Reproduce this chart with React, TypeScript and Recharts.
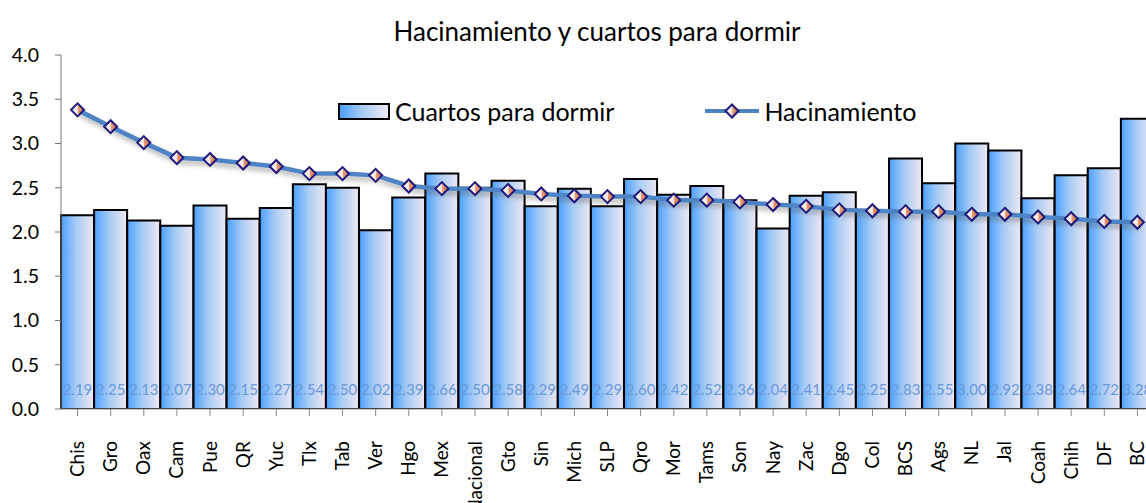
import { Bar, ComposedChart, LabelList, Line, XAxis, YAxis } from "recharts";

const categories = [
  "Chis", "Gro", "Oax", "Cam", "Pue", "QR", "Yuc", "Tlx", "Tab", "Ver", "Hgo",
  "Mex", "Nacional", "Gto", "Sin", "Mich", "SLP", "Qro", "Mor", "Tams", "Son",
  "Nay", "Zac", "Dgo", "Col", "BCS", "Ags", "NL", "Jal", "Coah", "Chih", "DF", "BC",
];

const cuartos = [
  2.19, 2.25, 2.13, 2.07, 2.3, 2.15, 2.27, 2.54, 2.5, 2.02, 2.39,
  2.66, 2.5, 2.58, 2.29, 2.49, 2.29, 2.6, 2.42, 2.52, 2.36,
  2.04, 2.41, 2.45, 2.25, 2.83, 2.55, 3.0, 2.92, 2.38, 2.64, 2.72, 3.28,
];

const hacinamiento = [
  3.38, 3.19, 3.01, 2.84, 2.82, 2.78, 2.74, 2.66, 2.66, 2.64, 2.52,
  2.49, 2.49, 2.47, 2.43, 2.41, 2.4, 2.4, 2.36, 2.36, 2.34,
  2.31, 2.29, 2.25, 2.24, 2.23, 2.23, 2.2, 2.2, 2.17, 2.15, 2.12, 2.11,
];

const yTicks = [0, 0.5, 1, 1.5, 2, 2.5, 3, 3.5, 4];

const data = categories.map((name, i) => ({
  name,
  cuartos: cuartos[i],
  hacinamiento: hacinamiento[i],
}));

const FONT = "Lato, 'Open Sans', sans-serif";
const LINE_COLOR = "#4f84c4";

function Diamond({ cx, cy }: any) {
  if (cx == null || cy == null) return null;
  const r = 6.5;
  return (
    <path
      d={`M${cx},${cy - r} L${cx + r},${cy} L${cx},${cy + r} L${cx - r},${cy} Z`}
      fill="url(#diamondFill)"
      stroke="#1f1a7a"
      strokeWidth={2}
    />
  );
}

function XTick({ x, y, payload }: any) {
  return (
    <g transform={`translate(${x},${y + 23})`}>
      <text
        transform="rotate(-90)"
        textAnchor="end"
        dy={6.5}
        fontSize={19}
        fontFamily={FONT}
        fill="#000"
      >
        {payload.value}
      </text>
    </g>
  );
}

function BarValue({ x, width, value }: any) {
  return (
    <text
      x={x + width / 2}
      y={389}
      textAnchor="middle"
      dominantBaseline="central"
      fontSize={15}
      fontFamily={FONT}
      fill="#6a99dc"
    >
      {Number(value).toFixed(2)}
    </text>
  );
}

export default function App() {
  return (
    <div
      style={{
        position: "absolute",
        left: 0,
        top: 0,
        width: 1146,
        height: 503,
        overflow: "hidden",
        background: "#fff",
        fontFamily: FONT,
      }}
    >
      <div
        style={{
          position: "absolute",
          left: 0,
          top: 15,
          width: 1194,
          textAlign: "center",
          fontSize: 26,
          lineHeight: "32px",
          color: "#000",
        }}
      >
        Hacinamiento y cuartos para dormir
      </div>

      <ComposedChart
        width={1165}
        height={503}
        data={data}
        margin={{ top: 55, right: 11, left: 0, bottom: 0 }}
        barCategoryGap={0}
        barGap={0}
      >
        <defs>
          <linearGradient id="barFill" x1="0" y1="0" x2="1" y2="0">
            <stop offset="0%" stopColor="#4aa0ff" />
            <stop offset="45%" stopColor="#a6cbf4" />
            <stop offset="100%" stopColor="#efe8f4" />
          </linearGradient>
          <linearGradient id="diamondFill" x1="0" y1="0" x2="1" y2="0">
            <stop offset="0%" stopColor="#ffffff" />
            <stop offset="50%" stopColor="#f6e6e6" />
            <stop offset="55%" stopColor="#e99a72" />
            <stop offset="100%" stopColor="#c8734e" />
          </linearGradient>
          <filter id="lineShadow" x="-5%" y="-50%" width="110%" height="200%">
            <feDropShadow dx="2" dy="4" stdDeviation="2.5" floodColor="#555" floodOpacity="0.45" />
          </filter>
        </defs>
        <XAxis
          dataKey="name"
          interval={0}
          height={94}
          tick={<XTick />}
          tickSize={7}
          axisLine={{ stroke: "#888", strokeWidth: 1 }}
          tickLine={{ stroke: "#888" }}
        />
        <YAxis
          domain={[0, 4]}
          ticks={yTicks}
          width={61}
          tickFormatter={(v: number) => v.toFixed(1)}
          tick={{ fontSize: 19.5, fontFamily: FONT, fill: "#000" }}
          tickSize={6}
          tickMargin={16}
          axisLine={{ stroke: "#777" }}
          tickLine={{ stroke: "#777" }}
          allowDataOverflow
        />
        <Bar
          dataKey="cuartos"
          fill="url(#barFill)"
          stroke="#000"
          strokeWidth={2}
          isAnimationActive={false}
        >
          <LabelList dataKey="cuartos" content={<BarValue />} />
        </Bar>
        <Line
          dataKey="hacinamiento"
          stroke={LINE_COLOR}
          strokeWidth={4.5}
          dot={<Diamond />}
          activeDot={false}
          filter="url(#lineShadow)"
          isAnimationActive={false}
        />
      </ComposedChart>

      <div
        style={{
          position: "absolute",
          left: 338,
          top: 96,
          display: "flex",
          alignItems: "center",
          fontSize: 25,
          color: "#000",
          lineHeight: "30px",
        }}
      >
        <div
          style={{
            width: 48,
            height: 13,
            border: "2px solid #000",
            background: "linear-gradient(to right, #4aa0ff, #a6cbf4 45%, #efe8f4)",
            marginRight: 5,
          }}
        />
        <span>Cuartos para dormir</span>
        <svg width={58} height={20} style={{ marginLeft: 89, marginRight: 3 }}>
          <line x1={2} y1={10} x2={56} y2={10} stroke={LINE_COLOR} strokeWidth={4} />
          <path d="M29,3.5 L35.5,10 L29,16.5 L22.5,10 Z" fill="url(#legendDiamond)" stroke="#1f1a7a" strokeWidth={2} />
          <defs>
            <linearGradient id="legendDiamond" x1="0" y1="0" x2="1" y2="0">
              <stop offset="0%" stopColor="#ffffff" />
              <stop offset="50%" stopColor="#f6e6e6" />
              <stop offset="55%" stopColor="#e99a72" />
              <stop offset="100%" stopColor="#c8734e" />
            </linearGradient>
          </defs>
        </svg>
        <span>Hacinamiento</span>
      </div>
    </div>
  );
}
